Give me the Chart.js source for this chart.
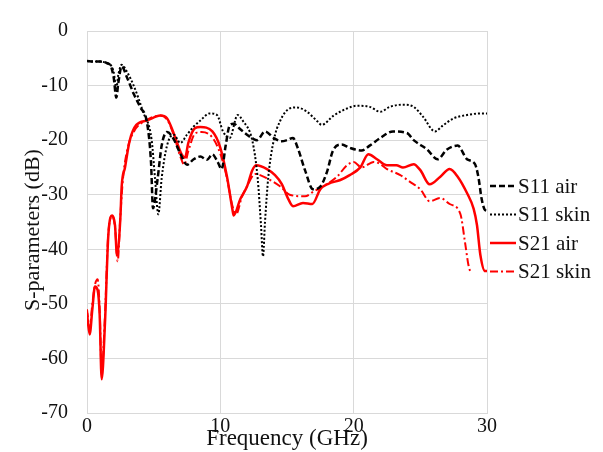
<!DOCTYPE html>
<html>
<head>
<meta charset="utf-8">
<script src="https://cdn.jsdelivr.net/npm/chart.js@4"></script>
<style>
  html, body { margin: 0; padding: 0; background: #fff; }
  #chart { display: block; }
</style>
</head>
<body>
<canvas id="chart" width="603" height="452"></canvas>
<script>
// S11 air
const s11AirFreq = [0, 0.5, 1.0, 1.5, 1.8, 2.0, 2.2, 2.35, 2.6, 3.0, 3.5, 4.0, 4.5, 4.8, 4.95, 5.3, 5.6, 6.0, 6.5, 7.0, 7.5, 8.0, 8.5, 9.0, 9.4, 9.8, 10.1, 10.4, 10.7, 11.0, 11.5, 12.0, 12.5, 12.75, 13.35, 14.0, 14.6, 15.0, 15.45, 15.8, 16.35, 16.95, 17.5, 18.0, 18.45, 19.1, 19.7, 20.6, 21.2, 22.0, 22.95, 24.0, 24.5, 25.5, 26.3, 27.0, 27.8, 28.5, 29.1, 29.35, 29.6, 29.8, 30];
const s11AirDb = [-5.5, -5.6, -5.6, -5.9, -6.5, -8.5, -12.2, -9.5, -6.5, -8.5, -11.5, -14, -16.8, -24, -32.5, -27, -21, -18.5, -19.8, -22.5, -24.5, -23.5, -23, -23.6, -22.6, -24, -25.3, -21, -17.3, -17, -18, -19, -19.8, -20, -18.4, -19.6, -20.2, -20, -19.6, -21.4, -25.5, -29, -28.5, -25.8, -21.9, -20.8, -21.4, -21.9, -21, -19.6, -18.4, -18.7, -20, -21.7, -23.5, -21.7, -21, -23.5, -24.4, -26.7, -30.8, -32.6, -33];

// S11 skin
const s11SkinFreq = [0, 0.5, 1.0, 1.5, 1.8, 2.0, 2.2, 2.35, 2.6, 3.0, 3.5, 4.2, 4.85, 5.1, 5.35, 5.6, 6.0, 6.5, 7.0, 7.5, 8.0, 8.5, 9.2, 9.75, 10.2, 10.7, 11.3, 11.7, 12.4, 12.8, 13.05, 13.2, 13.35, 13.6, 14.0, 14.5, 15.2, 15.7, 16.5, 17.3, 17.6, 18.5, 19.5, 20.25, 21.2, 22.0, 22.7, 23.7, 24.5, 25.2, 26.1, 26.7, 27.5, 28.5, 29.5, 30];
const s11SkinDb = [-5.5, -5.6, -5.6, -5.9, -6.3, -7.5, -10.5, -8, -6.2, -7.5, -10, -14.8, -20, -27, -33.6, -27, -21, -19, -20.5, -19, -17.5, -16.4, -15.1, -15.4, -18.4, -19.6, -15.4, -16.5, -20.1, -27, -35.6, -41.3, -35, -26.7, -20.1, -16.4, -14.2, -14, -14.8, -16.6, -17.2, -15.5, -14.2, -13.7, -13.9, -14.8, -13.9, -13.5, -13.9, -15.7, -18.4, -17.3, -16, -15.4, -15.1, -15.1];

// S21 air
const s21AirFreq = [0, 0.2, 0.4, 0.6, 0.8, 0.95, 1.1, 1.35, 1.6, 1.9, 2.1, 2.25, 2.5, 2.6, 2.85, 3.2, 3.7, 4.5, 5.5, 6.0, 6.45, 7.1, 7.35, 7.6, 8.1, 8.5, 9.4, 10.0, 10.5, 10.9, 11.0, 11.5, 12.0, 12.4, 12.7, 13.5, 14.1, 14.6, 15.1, 15.45, 16.2, 16.9, 17.5, 18.1, 19.0, 19.7, 20.5, 21.1, 21.75, 22.5, 23.2, 23.7, 24.5, 25.0, 25.7, 26.5, 27.2, 27.8, 28.5, 29.0, 29.25, 29.5, 29.85, 30];
const s21AirDb = [-51.7, -55.6, -51, -46.8, -47.5, -52, -63.8, -53.4, -37.4, -33.8, -35.6, -41, -34.4, -28.5, -25, -20.1, -17.2, -16.4, -15.5, -16, -18.4, -22.6, -23.2, -20.5, -17.8, -17.6, -18.4, -21.4, -26.7, -32.6, -33.8, -30.8, -28.5, -25.5, -24.6, -25.3, -26.4, -28, -30.8, -32.1, -31.5, -31.7, -29, -28, -27.3, -26.4, -25, -22.6, -23.5, -24.6, -24.6, -25, -24.4, -25.5, -28.1, -26.7, -25.3, -26.7, -29.7, -32.6, -35.6, -41, -44, -44];

// S21 skin
const s21SkinFreq = [0, 0.2, 0.4, 0.6, 0.8, 0.95, 1.1, 1.35, 1.6, 1.9, 2.1, 2.3, 2.5, 2.7, 3.0, 3.5, 4.5, 5.5, 6.0, 6.5, 7.0, 7.3, 7.6, 8.1, 8.6, 9.4, 10.0, 10.5, 10.9, 11.2, 11.6, 12.0, 12.6, 13.5, 14.5, 15.2, 16.35, 17.0, 17.7, 18.75, 19.5, 20.0, 20.6, 21.5, 22.0, 22.5, 23.5, 24.2, 25.0, 25.7, 26.5, 27.2, 28.0, 28.35, 28.6, 28.8];
const s21SkinDb = [-51, -54.5, -50, -46.5, -45.5, -51, -62.5, -52, -37, -34, -36, -42.2, -34, -27, -22, -18.5, -16.3, -15.5, -16.2, -19, -23, -24.5, -22, -18.8, -18.5, -19.5, -22.5, -27, -32, -33.5, -30.5, -28.5, -26.2, -27, -28.5, -30, -30.3, -29.4, -28.5, -26.7, -24.6, -24, -25, -24, -24.4, -25.3, -26.4, -27.6, -29, -31.2, -30.6, -31.7, -33.5, -38.7, -42.8, -44.5];

const seriesNames = ['S11 air', 'S11 skin', 'S21 air', 'S21 skin'];
const freqTicks = [0, 10, 20, 30];
const dbTicks = [0, -10, -20, -30, -40, -50, -60, -70];

const serif = 'Liberation Serif, "Times New Roman", serif';
const gridGray = '#d9d9d9';

function toPoints(xs, ys) {
    return xs.map((x, i) => ({ x: x, y: ys[i] }));
}

function makeSet(label, xs, ys, color, width, dash) {
    return {
        label: label,
        data: toPoints(xs, ys),
        showLine: true,
        borderColor: color,
        backgroundColor: color,
        borderWidth: width,
        borderDash: dash,
        pointRadius: 0,
        cubicInterpolationMode: 'monotone',
        fill: false
    };
}

// y-axis title and the line-style key on the right
const sideLabels = {
    id: 'sideLabels',
    afterDraw(chart) {
        const ctx = chart.ctx;
        ctx.save();
        ctx.fillStyle = '#111';
        ctx.font = '22px ' + serif;
        ctx.textAlign = 'center';
        ctx.textBaseline = 'middle';
        ctx.translate(33, 230);
        ctx.rotate(-Math.PI / 2);
        ctx.fillText('S-parameters (dB)', 0, 0);
        ctx.restore();

        ctx.save();
        ctx.font = '21px ' + serif;
        ctx.textAlign = 'left';
        ctx.textBaseline = 'middle';
        chart.data.datasets.forEach((ds, i) => {
            const y = 186 + i * 28.5;
            ctx.beginPath();
            ctx.strokeStyle = ds.borderColor;
            ctx.lineWidth = ds.borderWidth;
            ctx.setLineDash(ds.borderDash || []);
            ctx.moveTo(490, y);
            ctx.lineTo(516, y);
            ctx.stroke();
            ctx.setLineDash([]);
            ctx.fillStyle = '#111';
            ctx.fillText(ds.label, 518, y + 1);
        });
        ctx.restore();
    }
};

const ctx = document.getElementById('chart').getContext('2d');
new Chart(ctx, {
    type: 'scatter',
    data: {
        datasets: [
            makeSet(seriesNames[0], s11AirFreq, s11AirDb, '#000000', 2.5, [6, 3]),
            makeSet(seriesNames[1], s11SkinFreq, s11SkinDb, '#000000', 2, [2, 2]),
            makeSet(seriesNames[2], s21AirFreq, s21AirDb, '#ff0000', 2.5, []),
            makeSet(seriesNames[3], s21SkinFreq, s21SkinDb, '#ff0000', 2, [8, 3, 2, 3])
        ]
    },
    options: {
        responsive: false,
        animation: false,
        layout: { padding: { top: 20, right: 116, left: 0, bottom: 0 } },
        scales: {
            x: {
                type: 'linear',
                min: freqTicks[0],
                max: freqTicks[freqTicks.length - 1],
                afterBuildTicks: s => { s.ticks = freqTicks.map(v => ({ value: v })); },
                ticks: { color: '#111', font: { family: serif, size: 20 }, padding: 2 },
                grid: { color: gridGray, drawTicks: false },
                border: { color: gridGray },
                title: {
                    display: true,
                    text: 'Frequency (GHz)',
                    color: '#111',
                    font: { family: serif, size: 23 },
                    padding: { top: 0, bottom: -1 }
                },
                afterFit: s => { s.height = 39; }
            },
            y: {
                type: 'linear',
                min: dbTicks[dbTicks.length - 1],
                max: dbTicks[0],
                afterBuildTicks: s => { s.ticks = dbTicks.map(v => ({ value: v })); },
                ticks: { color: '#111', font: { family: serif, size: 20 }, padding: 19 },
                grid: { color: gridGray, drawTicks: false },
                border: { color: gridGray },
                afterFit: s => { s.width = 87; }
            }
        },
        plugins: {
            legend: { display: false },
            tooltip: { enabled: false }
        }
    },
    plugins: [sideLabels]
});
</script>
</body>
</html>
